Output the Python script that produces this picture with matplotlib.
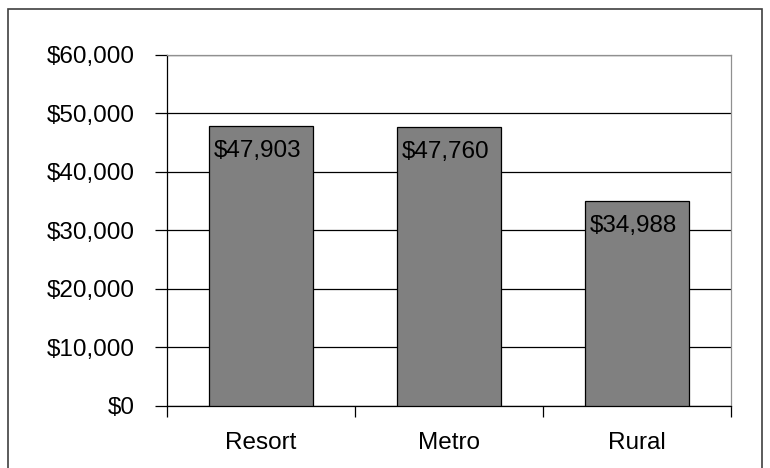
import matplotlib.pyplot as plt
from matplotlib.patches import Rectangle
from matplotlib.ticker import FuncFormatter, MultipleLocator

plt.rcParams['font.family'] = ['Liberation Sans', 'DejaVu Sans']

regions = ['Resort', 'Metro', 'Rural']
avg_income = [47903, 47760, 34988]

fig = plt.figure(figsize=(7.7, 4.68), dpi=100)
ax = fig.add_axes([167 / 770, 1 - 405.5 / 468, 564 / 770, 350.5 / 468])

# outer chart frame
fig.patches.append(Rectangle((8 / 770, -0.1), 754 / 770, 1.1 - 9 / 468,
                             transform=fig.transFigure, fill=False,
                             edgecolor='#404040', linewidth=1.2))

x = list(range(len(regions)))
bars = ax.bar(x, avg_income, width=0.553, color='#808080',
              edgecolor='black', linewidth=0.9, zorder=3)

for xi, v in zip(x, avg_income):
    ax.text(xi - 0.02, v - 2400, '${:,.0f}'.format(v), ha='center', va='top',
            fontsize=17.5, color='black', zorder=4)

ax.set_xlim(-0.5, 2.5)
ax.set_ylim(0, 60000)
ax.yaxis.set_major_locator(MultipleLocator(10000))
ax.yaxis.set_major_formatter(FuncFormatter(lambda v, p: '${:,.0f}'.format(v)))
ax.grid(axis='y', color='black', linewidth=0.9, zorder=0)

ax.set_xticks([-0.5, 0.5, 1.5, 2.5])
ax.set_xticklabels([])
ax.set_xticks(x, minor=True)
ax.set_xticklabels(regions, minor=True)
ax.tick_params(axis='x', which='minor', length=0, pad=19, labelsize=17.5)
ax.tick_params(axis='x', which='major', length=8, width=0.9, direction='out')
ax.tick_params(axis='y', length=9, width=0.9, direction='out', pad=14,
               labelsize=17.5)

for side in ['top', 'right']:
    ax.spines[side].set_color('#909090')
    ax.spines[side].set_linewidth(0.9)
for side in ['left', 'bottom']:
    ax.spines[side].set_color('black')
    ax.spines[side].set_linewidth(0.9)

fig.savefig('out.png', dpi=100)
